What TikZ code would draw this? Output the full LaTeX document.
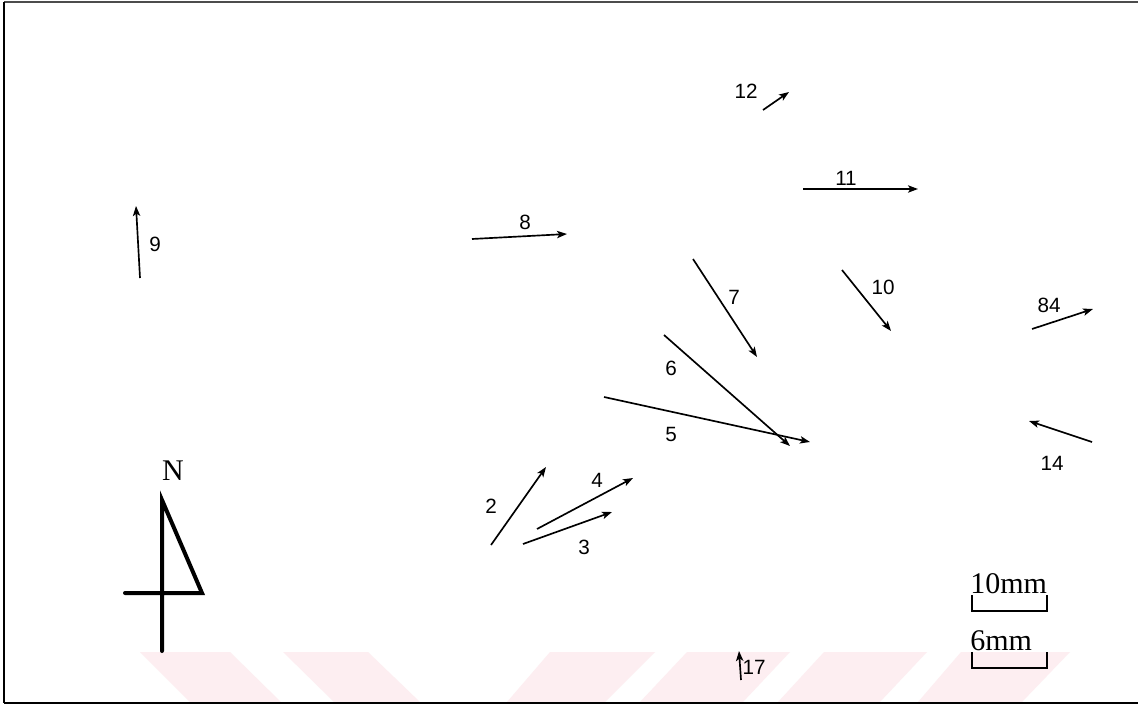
\documentclass[tikz,border=0pt]{standalone}
\usepackage{fontspec}
\setmainfont{Liberation Serif}
\newfontfamily\labfont{Liberation Sans}
\usetikzlibrary{arrows.meta}
\definecolor{wmpink}{HTML}{FDEEF1}
\tikzset{
  vec/.style={-{Stealth[length=7.5pt,width=5.5pt,inset=1.8pt]}, line width=1.25pt, black},
  lab/.style={font=\labfont\fontsize{15.5pt}{17pt}\selectfont, inner sep=0pt},
  serif/.style={font=\fontsize{22.5pt}{24pt}\selectfont, inner sep=0pt},
  wm/.style={fill=wmpink, draw=none},
  bar/.style={line width=2.2pt, line join=miter},
  north/.style={line width=3pt, line cap=round, line join=miter}
}
\begin{document}
\begin{tikzpicture}[x=0.75pt,y=-0.75pt]
\useasboundingbox (0,0) rectangle (1138,706);
\fill[white] (0,0) rectangle (1138,706);
% watermark stripes
\fill[wm] (140,652) -- (230,652) -- (281,702) -- (190,702) -- cycle;
\fill[wm] (283,652) -- (368,652) -- (420,702) -- (334,702) -- cycle;
\fill[wm] (550,652) -- (655,652) -- (605,702) -- (507,702) -- cycle;
\fill[wm] (687,652) -- (790,652) -- (743,702) -- (640,702) -- cycle;
\fill[wm] (824,652) -- (927,652) -- (880,702) -- (778,702) -- cycle;
\fill[wm] (961,652) -- (1070,652) -- (1022,702) -- (918,702) -- cycle;
% frame
\draw[line width=1.6pt, black!70] (4,2) -- (1138,2);
\draw[line width=1.8pt] (4,2) -- (4,703);
\draw[line width=1.8pt] (4,703) -- (1138,703);
% vector endpoints
\coordinate (a9s) at (140,278);  \coordinate (a9e) at (136,206);
\coordinate (a8s) at (472,239);  \coordinate (a8e) at (567,234);
\coordinate (a12s) at (763,110); \coordinate (a12e) at (789,92);
\coordinate (a11s) at (803,189); \coordinate (a11e) at (918,189);
\coordinate (a7s) at (693,259);  \coordinate (a7e) at (757,357);
\coordinate (a10s) at (842,270); \coordinate (a10e) at (891,331);
\coordinate (a84s) at (1032,329);\coordinate (a84e) at (1093,309);
\coordinate (a6s) at (664,335);  \coordinate (a6e) at (790,446);
\coordinate (a5s) at (604,397);  \coordinate (a5e) at (810,442);
\coordinate (a14s) at (1092,442);\coordinate (a14e) at (1029,421);
\coordinate (a2s) at (491,545);  \coordinate (a2e) at (546,467);
\coordinate (a4s) at (537,529);  \coordinate (a4e) at (633,478);
\coordinate (a3s) at (523,544);  \coordinate (a3e) at (612,512);
\coordinate (a17s) at (741,680); \coordinate (a17e) at (739,651);
\foreach \n in {9,8,12,11,7,10,84,6,5,14,2,4,3,17}
  \draw[vec] (a\n s) -- (a\n e);
% labels
\node[lab] (l9) at (155,244) {9};
\node[lab] (l8) at (525,222) {8};
\node[lab] (l12) at (746,91) {12};
\node[lab] (l11) at (846,178) {11};
\node[lab] (l7) at (734,297) {7};
\node[lab] (l10) at (883,287) {10};
\node[lab] (l84) at (1049,305) {84};
\node[lab] (l6) at (671,368) {6};
\node[lab] (l5) at (671,434) {5};
\node[lab] (l14) at (1052,463) {14};
\node[lab] (l2) at (491,506) {2};
\node[lab] (l4) at (597,480) {4};
\node[lab] (l3) at (584,547) {3};
\node[lab] (l17) at (754,667) {17};
% north arrow
\node[serif] (N) at (173,471) {N};
\coordinate (ntop) at (162,500);
\coordinate (nbot) at (162,651);
\coordinate (nright) at (202,593);
\coordinate (nleft) at (125,593);
\draw[north] (nbot) -- (ntop) -- (nright) -- (nleft);
% scale bars
\node[serif, anchor=base west] (s10) at (970,593) {10mm};
\coordinate (b1a) at (972,595); \coordinate (b1b) at (1047,595);
\draw[bar] (b1a) -- (b1a |- 0,611) -- (b1b |- 0,611) -- (b1b);
\node[serif, anchor=base west] (s6) at (970,650) {6mm};
\coordinate (b2a) at (972,652); \coordinate (b2b) at (1047,652);
\draw[bar] (b2a) -- (b2a |- 0,668) -- (b2b |- 0,668) -- (b2b);
\end{tikzpicture}
\end{document}
